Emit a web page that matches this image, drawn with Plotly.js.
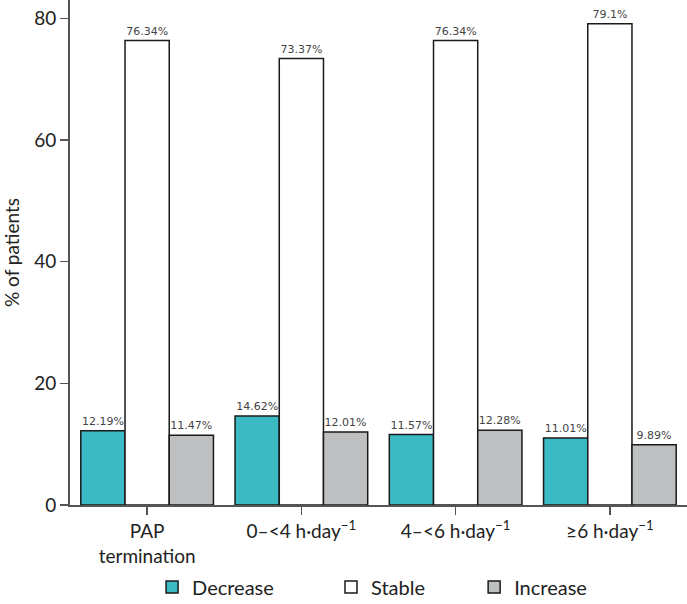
<!DOCTYPE html>
<html>
<head>
<meta charset="utf-8">
<script src="https://cdn.plot.ly/plotly-3.0.1.min.js"></script>
<style>html,body{margin:0;padding:0;background:#fff;}#chart{width:687px;height:604px;}</style>
</head>
<body>
<div id="chart"></div>
<script>
const categories = ["PAP<br>termination", "0–<4 h·day<sup>−1</sup>", "4–<6 h·day<sup>−1</sup>", "≥6 h·day<sup>−1</sup>"];
const decrease = [12.19, 14.62, 11.57, 11.01];
const stable = [76.34, 73.37, 76.34, 79.1];
const increase = [11.47, 12.01, 12.28, 9.89];
const yTicks = [0, 20, 40, 60, 80];

function barTrace(name, values, color, legendId) {
  return {
    type: "bar",
    name: name,
    legend: legendId,
    x: categories,
    y: values,
    text: values.map(v => v + "%"),
    textposition: "outside",
    cliponaxis: false,
    textfont: {family: "DejaVu Sans, sans-serif", size: 11, color: "#444"},
    marker: {color: color, line: {color: "#1a1a1a", width: 1.5}},
    hoverinfo: "skip"
  };
}

const data = [
  barTrace("Decrease", decrease, "#3BBAC3", "legend"),
  barTrace("Stable", stable, "#FFFFFF", "legend2"),
  barTrace("Increase", increase, "#BEBFC1", "legend3")
];

function legendAt(x) {
  return {
    orientation: "h",
    xref: "paper", x: x, xanchor: "left",
    yref: "container", y: 0.028, yanchor: "middle",
    font: {size: 20, color: "#222"},
    itemwidth: 30,
    bgcolor: "rgba(0,0,0,0)"
  };
}

const layout = {
  width: 687,
  height: 604,
  margin: {l: 70, r: 0, t: 0, b: 99},
  barmode: "group",
  bargap: 0.14,
  bargroupgap: 0,
  paper_bgcolor: "#fff",
  plot_bgcolor: "#fff",
  font: {family: "Lato, sans-serif", color: "#222"},
  showlegend: true,
  legend: legendAt(0.133),
  legend2: legendAt(0.423),
  legend3: legendAt(0.655),
  xaxis: {
    type: "category",
    showline: true, linecolor: "#555", linewidth: 2,
    ticks: "outside", ticklen: 8, tickcolor: "#555", tickwidth: 1.5,
    tickfont: {size: 19, color: "#222"},
    showgrid: false, zeroline: false,
    range: [-0.5, 3.5]
  },
  yaxis: {
    range: [0, 83],
    tickvals: yTicks,
    showline: true, linecolor: "#555", linewidth: 2,
    ticks: "outside", ticklen: 8, tickcolor: "#555", tickwidth: 1.5,
    tickfont: {size: 19, color: "#222"},
    showgrid: false, zeroline: false,
    title: {text: "% of patients", font: {size: 19, color: "#222"}, standoff: 14}
  }
};

Plotly.newPlot("chart", data, layout, {displayModeBar: false, staticPlot: true});
</script>
</body>
</html>
